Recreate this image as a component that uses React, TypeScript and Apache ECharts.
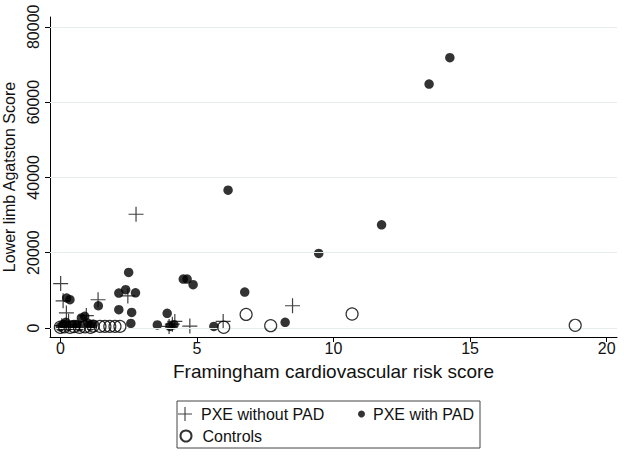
import React, { useEffect, useRef } from "react";
import * as echarts from "echarts";

// PXE without PAD (plus markers): [Framingham score, Agatston score]
const pxeWithoutPad: [number, number][] = [
  [0.01, 11800], [0.1, 7200], [0.22, 4000], [0.05, 600], [0.3, 1800],
  [0.95, 3300], [1.38, 7500], [2.47, 8500], [2.77, 30200], [3.98, 420],
  [4.1, 1000], [4.19, 1750], [4.74, 500], [5.96, 1750], [8.5, 5900],
];

// PXE with PAD (filled dots)
const pxeWithPad: [number, number][] = [
  [0.0, 300], [0.1, 900], [0.2, 1500], [0.3, 400], [0.45, 700], [0.6, 900],
  [0.77, 2650], [0.89, 3080], [1.0, 1300], [1.1, 500], [1.2, 900], [0.7, 300],
  [0.23, 7960], [0.35, 7500], [1.39, 5900], [2.5, 14750], [2.14, 9280],
  [2.39, 10160], [2.75, 9350], [2.14, 4850], [2.61, 4140], [2.58, 1200],
  [3.55, 800], [3.91, 3900], [4.01, 420], [4.16, 875], [4.5, 13000],
  [4.64, 13000], [4.86, 11490], [5.62, 420], [6.14, 36600], [6.75, 9550],
  [8.23, 1490], [9.46, 19800], [11.76, 27400], [13.5, 64800], [14.26, 71800],
];

// Controls (open circles)
const controls: [number, number][] = [
  [0.0, 200], [0.15, 300], [0.35, 200], [0.5, 400], [0.7, 150], [0.9, 300],
  [1.1, 200], [1.2, 500], [1.45, 420], [1.63, 420], [1.81, 420], [2.0, 420],
  [2.18, 420], [5.98, 200], [6.8, 3600], [7.7, 610], [10.68, 3710], [18.85, 700],
];

const xTicks = [0, 5, 10, 15, 20];
const yTicks = [0, 20000, 40000, 60000, 80000];

const FONT = "'Liberation Sans', Arial, Helvetica, sans-serif";
const PLUS =
  "path://M0,9.2H9.2V0H10.8V9.2H20V10.8H10.8V20H9.2V10.8H0Z";

export default function App() {
  const ref = useRef<HTMLDivElement>(null);
  useEffect(() => {
    if (!ref.current) return;
    const chart = echarts.init(ref.current, null, { renderer: "svg" });
    const textColor = "#111";
    chart.setOption({
      animation: false,
      backgroundColor: "#fff",
      textStyle: { fontFamily: FONT },
      grid: {
        left: 50, right: 7, top: 17, bottom: 120,
        containLabel: false, outerBoundsMode: "none",
      },
      legend: [
        {
          data: [{ name: "PXE without PAD", icon: PLUS }],
          left: 178, top: 406, padding: 0, itemWidth: 14, itemHeight: 14,
          textStyle: { fontSize: 16, color: textColor, fontFamily: FONT, padding: [0, 0, 0, 4] },
          selectedMode: false,
        },
        {
          data: [{ name: "PXE with PAD", icon: "circle" }],
          left: 358, top: 406, padding: 0, itemWidth: 7, itemHeight: 7,
          textStyle: { fontSize: 16, color: textColor, fontFamily: FONT, padding: [0, 0, 0, 3] },
          selectedMode: false,
        },
        {
          data: [{ name: "Controls", icon: "circle" }],
          left: 179.5, top: 428, padding: 0, itemWidth: 11, itemHeight: 11,
          textStyle: { fontSize: 16, color: textColor, fontFamily: FONT, padding: [0, 0, 0, 6] },
          selectedMode: false,
        },
      ],
      graphic: [
        {
          type: "rect",
          shape: { x: 177, y: 401, width: 303, height: 47 },
          style: { fill: "none", stroke: "#444", lineWidth: 1 },
          silent: true,
        },
      ],
      xAxis: {
        type: "value",
        min: -0.38,
        max: 20.38,
        name: "Framingham cardiovascular risk score",
        nameLocation: "middle",
        nameGap: 25,
        nameTextStyle: { fontSize: 19, color: textColor, fontFamily: FONT },
        axisLine: { show: true, onZero: false, lineStyle: { color: "#000", width: 1 } },
        axisTick: { show: true, length: 5, customValues: xTicks, lineStyle: { color: "#000" } },
        axisLabel: { customValues: xTicks, margin: 3, fontSize: 16, color: textColor, fontFamily: FONT },
        splitLine: { show: false },
      },
      yAxis: {
        type: "value",
        min: -2400,
        max: 82600,
        name: "Lower limb Agatston Score",
        nameLocation: "middle",
        nameGap: 31,
        nameTextStyle: { fontSize: 16, color: textColor, fontFamily: FONT },
        axisLine: { show: true, onZero: false, lineStyle: { color: "#000", width: 1 } },
        axisTick: { show: true, length: 5, customValues: yTicks, lineStyle: { color: "#000" } },
        axisLabel: {
          customValues: yTicks, rotate: 90, margin: 9, fontSize: 16,
          color: textColor, fontFamily: FONT,
          formatter: (v: number) => String(v),
        },
        splitLine: { show: false },
      },
      series: [
        {
          name: "gridlines",
          type: "scatter",
          data: [],
          silent: true,
          z: 0,
          markLine: {
            silent: true,
            symbol: ["none", "none"],
            label: { show: false },
            lineStyle: { color: "#e6ecec", width: 1, type: "solid" },
            data: yTicks.map((v) => ({ yAxis: v })),
          },
        },
        {
          name: "PXE without PAD",
          type: "scatter",
          symbol: PLUS,
          symbolSize: 15,
          itemStyle: { color: "#111" },
          data: pxeWithoutPad,
          z: 3,
        },
        {
          name: "PXE with PAD",
          type: "scatter",
          symbol: "circle",
          symbolSize: 9.5,
          itemStyle: { color: "#000" },
          data: pxeWithPad,
          z: 4,
        },
        {
          name: "Controls",
          type: "scatter",
          symbol: "circle",
          symbolSize: 12,
          itemStyle: { color: "rgba(0,0,0,0)", borderColor: "#000", borderWidth: 1.2 },
          data: controls,
          z: 5,
        },
      ],
    });
    return () => chart.dispose();
  }, []);
  return (
    <div
      ref={ref}
      style={{ position: "fixed", left: 0, top: 0, width: 624, height: 457, background: "#fff" }}
    />
  );
}
